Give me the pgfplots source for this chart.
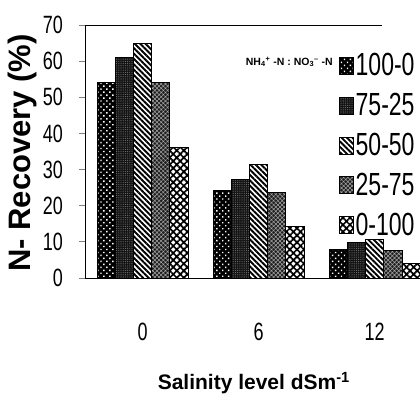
\documentclass[border=0pt]{standalone}
\usepackage{fontspec}
\setmainfont{Liberation Sans}
\newfontfamily\narrowfont{Liberation Sans}[FakeStretch=0.72]
\usepackage{pgfplots}
\pgfplotsset{compat=1.18}
\usepackage{pgfplotstable}
\usetikzlibrary{patterns,patterns.meta}

\pgfplotstableread{
x a b c d e
0 54 61 65 54 36
1 24.2 27.3 31.3 23.6 14.2
2 7.9 9.9 10.7 7.6 4.1
}\datatable

\pgfplotsset{
 sA/.style={draw=black, line width=1bp, preaction={fill=black},
   pattern color=white, pattern={Dots[distance=4.2bp, radius=1bp, angle=45]}},
 sB/.style={draw=black, line width=1bp, preaction={fill=black!92},
   pattern color=black!55, pattern={Dots[distance=2.2bp, radius=0.55bp]}},
 sC/.style={draw=black, line width=1bp, preaction={fill=white},
   pattern color=black, pattern={Lines[angle=-45, distance=3.8bp, line width=1.9bp]}},
 sD/.style={draw=black, line width=1bp, preaction={fill=black!88},
   pattern color=white!65!black, pattern={Hatch[angle=45, distance=3bp, line width=0.5bp]}},
 sE/.style={draw=black, line width=1bp, preaction={fill=white},
   pattern color=black, pattern={Hatch[angle=45, distance=5bp, line width=1.7bp]}},
}

\begin{document}
\begin{tikzpicture}
\useasboundingbox (0,0) rectangle (420bp,398bp);
\begin{axis}[
  at={(85bp,120bp)}, anchor=south west,
  scale only axis, width=335bp, height=253bp,
  ybar=0pt, bar width=18.2bp,
  xmin=-0.496, xmax=2.39,
  ymin=0, ymax=70,
  axis x line*=bottom, axis y line*=left,
  axis line style={line width=1bp},
  ytick={0,10,...,70},
  xtick={0,1,2}, xticklabels={0,6,12},
  xtick style={draw=none},
  ytick style={line width=0.8bp},
  tick align=outside, major tick length=6bp,
  /pgf/number format/assume math mode=true,
  yticklabel style={font=\narrowfont\fontsize{25bp}{25bp}\selectfont, anchor=east, inner sep=0pt, xshift=-16bp},
  xticklabel style={font=\narrowfont\fontsize{25bp}{25bp}\selectfont, anchor=north, inner sep=0pt, yshift=-39bp},
  ylabel={N- Recovery (\%)},
  ylabel style={font=\bfseries\fontsize{31bp}{31bp}\selectfont, at={(axis description cs:-0.188,0.494)}, anchor=center},
  xlabel={Salinity level dSm\textsuperscript{-1}},
  xlabel style={font=\bfseries\fontsize{21bp}{21bp}\selectfont, at={(axis description cs:0.504,-0.415)}, anchor=center},
  legend image code/.code={\draw[#1] (0bp,-9bp) rectangle (14bp,8bp);},
  legend style={at={(axis description cs:0.758,0.894)}, anchor=north west, draw=none, fill=none,
    inner sep=0pt, row sep=13bp, font=\narrowfont\fontsize{32bp}{32bp}\selectfont,
    nodes={inner sep=1.5bp}},
  legend cell align=left,
  clip=false,
]
\addplot[sA] table[x=x, y=a] {\datatable};
\addplot[sB] table[x=x, y=b] {\datatable};
\addplot[sC] table[x=x, y=c] {\datatable};
\addplot[sD] table[x=x, y=d] {\datatable};
\addplot[sE] table[x=x, y=e] {\datatable};
\legend{100-0,75-25,50-50,25-75,0-100}
\draw[line width=0.8bp] (rel axis cs:0,1) -- (rel axis cs:0.887,1);
\node[anchor=east, inner sep=0pt, font=\bfseries\fontsize{10.5bp}{10.5bp}\selectfont] at (rel axis cs:0.740,0.854)
  {NH\textsubscript{4}\textsuperscript{+} -N : NO\textsubscript{3}\textsuperscript{--} -N};
\end{axis}
\end{tikzpicture}
\end{document}
